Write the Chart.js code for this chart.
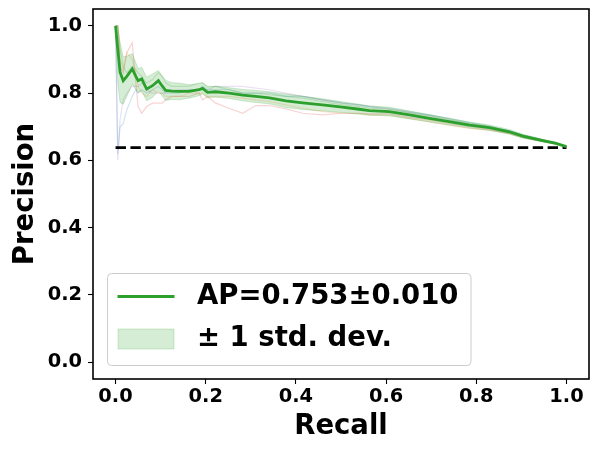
<!DOCTYPE html>
<html>
<head>
<meta charset="utf-8">
<script src="https://cdn.jsdelivr.net/npm/chart.js@4"></script>
<style>
html,body{margin:0;padding:0;background:#fff;}
canvas{display:block;}
</style>
</head>
<body>
<canvas id="c" width="598" height="452"></canvas>
<script>
// ---- data ----
const recall = [0, 0.005, 0.01, 0.017, 0.025, 0.037, 0.045, 0.05, 0.058, 0.069,
  0.082, 0.095, 0.103, 0.111, 0.125, 0.141, 0.163, 0.185, 0.193, 0.204,
  0.222, 0.252, 0.282, 0.311, 0.341, 0.378, 0.415, 0.459, 0.503, 0.54,
  0.563, 0.607, 0.652, 0.696, 0.74, 0.785, 0.829, 0.873, 0.903, 0.947,
  0.975, 1.0];
const meanPrecision = [1.0, 0.93, 0.862, 0.837, 0.85, 0.872, 0.85, 0.837, 0.842, 0.812,
  0.822, 0.837, 0.822, 0.808, 0.806, 0.805, 0.805, 0.81, 0.814, 0.802,
  0.804, 0.800, 0.794, 0.790, 0.786, 0.777, 0.771, 0.765, 0.758, 0.752,
  0.748, 0.745, 0.735, 0.725, 0.715, 0.705, 0.697, 0.685, 0.672, 0.659,
  0.651, 0.641];
const stdPrecision = [0, 0.1, 0.09, 0.07, 0.06, 0.045, 0.04, 0.035, 0.035, 0.035,
  0.035, 0.03, 0.03, 0.03, 0.025, 0.025, 0.02, 0.018, 0.017, 0.016,
  0.016, 0.016, 0.017, 0.018, 0.018, 0.02, 0.02, 0.018, 0.016, 0.015,
  0.014, 0.013, 0.012, 0.011, 0.01, 0.009, 0.008, 0.007, 0.006, 0.004,
  0.003, 0.001];
const fold1 = [1.0, 0.62, 0.70, 0.71, 0.75, 0.79, 0.81, 0.80, 0.81, 0.80,
  0.81, 0.82, 0.81, 0.80, 0.80, 0.80, 0.81, 0.81, 0.82, 0.81,
  0.81, 0.81, 0.80, 0.80, 0.80, 0.79, 0.79, 0.78, 0.77, 0.765,
  0.76, 0.755, 0.745, 0.735, 0.725, 0.712, 0.702, 0.688, 0.675, 0.661,
  0.652, 0.641];
const fold2 = [1.0, 1.0, 0.90, 0.87, 0.92, 0.90, 0.86, 0.82, 0.80, 0.79,
  0.81, 0.80, 0.80, 0.79, 0.79, 0.79, 0.80, 0.80, 0.80, 0.79,
  0.79, 0.79, 0.785, 0.78, 0.775, 0.765, 0.755, 0.745, 0.74, 0.74,
  0.735, 0.735, 0.725, 0.715, 0.705, 0.695, 0.69, 0.68, 0.668, 0.656,
  0.649, 0.640];
const fold3 = [1.0, 1.0, 0.93, 0.88, 0.86, 0.88, 0.87, 0.86, 0.85, 0.83,
  0.84, 0.86, 0.85, 0.83, 0.82, 0.82, 0.82, 0.83, 0.83, 0.82,
  0.82, 0.81, 0.80, 0.80, 0.795, 0.79, 0.785, 0.775, 0.765, 0.76,
  0.755, 0.752, 0.742, 0.733, 0.722, 0.71, 0.70, 0.688, 0.675, 0.662,
  0.652, 0.641];
const fold4 = [1.0, 1.0, 0.88, 0.86, 0.92, 0.95, 0.83, 0.76, 0.74, 0.76,
  0.77, 0.77, 0.77, 0.78, 0.79, 0.79, 0.79, 0.80, 0.78, 0.79,
  0.77, 0.755, 0.74, 0.763, 0.763, 0.753, 0.74, 0.735, 0.74, 0.74,
  0.738, 0.738, 0.728, 0.72, 0.71, 0.70, 0.692, 0.68, 0.668, 0.656,
  0.648, 0.640];
const fold5 = [1.0, 0.60, 0.72, 0.78, 0.80, 0.82, 0.82, 0.82, 0.83, 0.81,
  0.80, 0.80, 0.80, 0.80, 0.81, 0.81, 0.81, 0.81, 0.81, 0.81,
  0.82, 0.82, 0.82, 0.815, 0.81, 0.80, 0.79, 0.78, 0.77, 0.765,
  0.76, 0.752, 0.742, 0.732, 0.72, 0.708, 0.70, 0.688, 0.675, 0.662,
  0.651, 0.641];
const baselineRecall = [0, 1];
const baselinePrecision = [0.638, 0.638];
const xTicks = [0, 0.2, 0.4, 0.6, 0.8, 1.0];
const yTicks = [0, 0.2, 0.4, 0.6, 0.8, 1.0];
const legendLabels = ['AP=0.753\u00b10.010', '\u00b1 1 std. dev.'];
const xTitle = 'Recall';
const yTitle = 'Precision';

// ---- build ----
const pts = (xs, ys) => xs.map((x, i) => ({x: x, y: ys[i]}));
const upper = meanPrecision.map((m, i) => Math.min(m + stdPrecision[i], 1));
const lower = meanPrecision.map((m, i) => Math.max(m - stdPrecision[i], 0));
const foldColors = ['rgba(31,119,180,0.2)', 'rgba(255,127,14,0.2)', 'rgba(44,160,44,0.2)',
  'rgba(214,39,40,0.2)', 'rgba(148,103,189,0.2)'];
const folds = [fold1, fold2, fold3, fold4, fold5];
const FONT = '"DejaVu Sans", sans-serif';
const GREEN = '#2ca02c';

const datasets = [];
folds.forEach((f, i) => datasets.push({
  data: pts(recall, f), borderColor: foldColors[i], borderWidth: 1.2,
  pointRadius: 0, fill: false, order: 10
}));
datasets.push({
  data: pts(baselineRecall, baselinePrecision), borderColor: '#000', borderWidth: 2.8,
  borderDash: [10.4, 4.5], pointRadius: 0, fill: false, order: 6
});
datasets.push({
  data: pts(recall, meanPrecision), borderColor: GREEN, borderWidth: 2.8,
  pointRadius: 0, fill: false, order: 2
});
datasets.push({
  data: pts(recall, upper), borderColor: 'rgba(44,160,44,0.2)', borderWidth: 1,
  backgroundColor: 'rgba(44,160,44,0.2)', pointRadius: 0, fill: '+1', order: 1
});
datasets.push({
  data: pts(recall, lower), borderColor: 'rgba(44,160,44,0.2)', borderWidth: 1,
  pointRadius: 0, fill: false, order: 1
});

const framePlugin = {
  id: 'frame',
  afterDraw(chart) {
    const {ctx, chartArea: a} = chart;
    ctx.save();
    ctx.strokeStyle = '#000';
    ctx.lineWidth = 1.6;
    ctx.strokeRect(a.left, a.top, a.right - a.left, a.bottom - a.top);
    ctx.restore();
  }
};

const legendPlugin = {
  id: 'insideLegend',
  afterDatasetsDraw(chart) {
    const {ctx, chartArea: a} = chart;
    const bx = a.left + 14.5, by = a.bottom - 105.5, bw = 363.5, bh = 92;
    ctx.save();
    ctx.beginPath();
    ctx.roundRect(bx, by, bw, bh, 4);
    ctx.fillStyle = 'rgba(255,255,255,0.8)';
    ctx.fill();
    ctx.strokeStyle = '#cccccc';
    ctx.lineWidth = 1;
    ctx.stroke();
    const y1 = by + 23, y2 = by + 65.5;
    ctx.beginPath();
    ctx.moveTo(bx + 10, y1);
    ctx.lineTo(bx + 67, y1);
    ctx.strokeStyle = GREEN;
    ctx.lineWidth = 2.8;
    ctx.stroke();
    ctx.fillStyle = 'rgba(44,160,44,0.2)';
    ctx.fillRect(bx + 10.5, y2 - 10, 56, 20);
    ctx.strokeStyle = 'rgba(44,160,44,0.2)';
    ctx.lineWidth = 1;
    ctx.strokeRect(bx + 10.5, y2 - 10, 56, 20);
    ctx.fillStyle = '#000';
    ctx.font = 'bold 27.5px ' + FONT;
    ctx.textBaseline = 'middle';
    ctx.textAlign = 'left';
    ctx.fillText(legendLabels[0], bx + 89.5, y1);
    ctx.fillText(legendLabels[1], bx + 89.5, y2);
    ctx.restore();
  }
};

const noPad = s => { s.paddingTop = 0; s.paddingBottom = 0; s.paddingLeft = 0; s.paddingRight = 0; };

new Chart(document.getElementById('c'), {
  type: 'line',
  data: {datasets},
  plugins: [framePlugin, legendPlugin],
  options: {
    responsive: false,
    animation: false,
    layout: {padding: {top: 9, right: 9, left: 0, bottom: 0}},
    plugins: {legend: {display: false}, tooltip: {enabled: false}},
    elements: {line: {tension: 0}, point: {radius: 0}},
    scales: {
      x: {
        type: 'linear', min: -0.05, max: 1.05,
        afterBuildTicks: s => { s.ticks = xTicks.map(v => ({value: v})); },
        afterFit: s => { s.height = 73; noPad(s); },
        ticks: {color: '#000', padding: 1, font: {family: FONT, size: 19.4, weight: 'bold'},
          callback: v => Number(v).toFixed(1), maxRotation: 0},
        grid: {drawOnChartArea: false, drawTicks: true, tickLength: 5, tickColor: '#000', tickWidth: 1.1},
        border: {display: false},
        title: {display: true, text: xTitle, color: '#000',
          font: {family: FONT, size: 27.5, weight: 'bold'}, padding: {top: 0, bottom: 9}}
      },
      y: {
        type: 'linear', min: -0.05, max: 1.05,
        afterBuildTicks: s => { s.ticks = yTicks.map(v => ({value: v})); },
        afterFit: s => { s.width = 93; noPad(s); },
        ticks: {color: '#000', padding: 6, font: {family: FONT, size: 19.4, weight: 'bold'},
          callback: v => Number(v).toFixed(1)},
        grid: {drawOnChartArea: false, drawTicks: true, tickLength: 5, tickColor: '#000', tickWidth: 1.1},
        border: {display: false},
        title: {display: true, text: yTitle, color: '#000',
          font: {family: FONT, size: 27.5, weight: 'bold'}, padding: {top: 9, bottom: 0}}
      }
    }
  }
});
</script>
</body>
</html>
